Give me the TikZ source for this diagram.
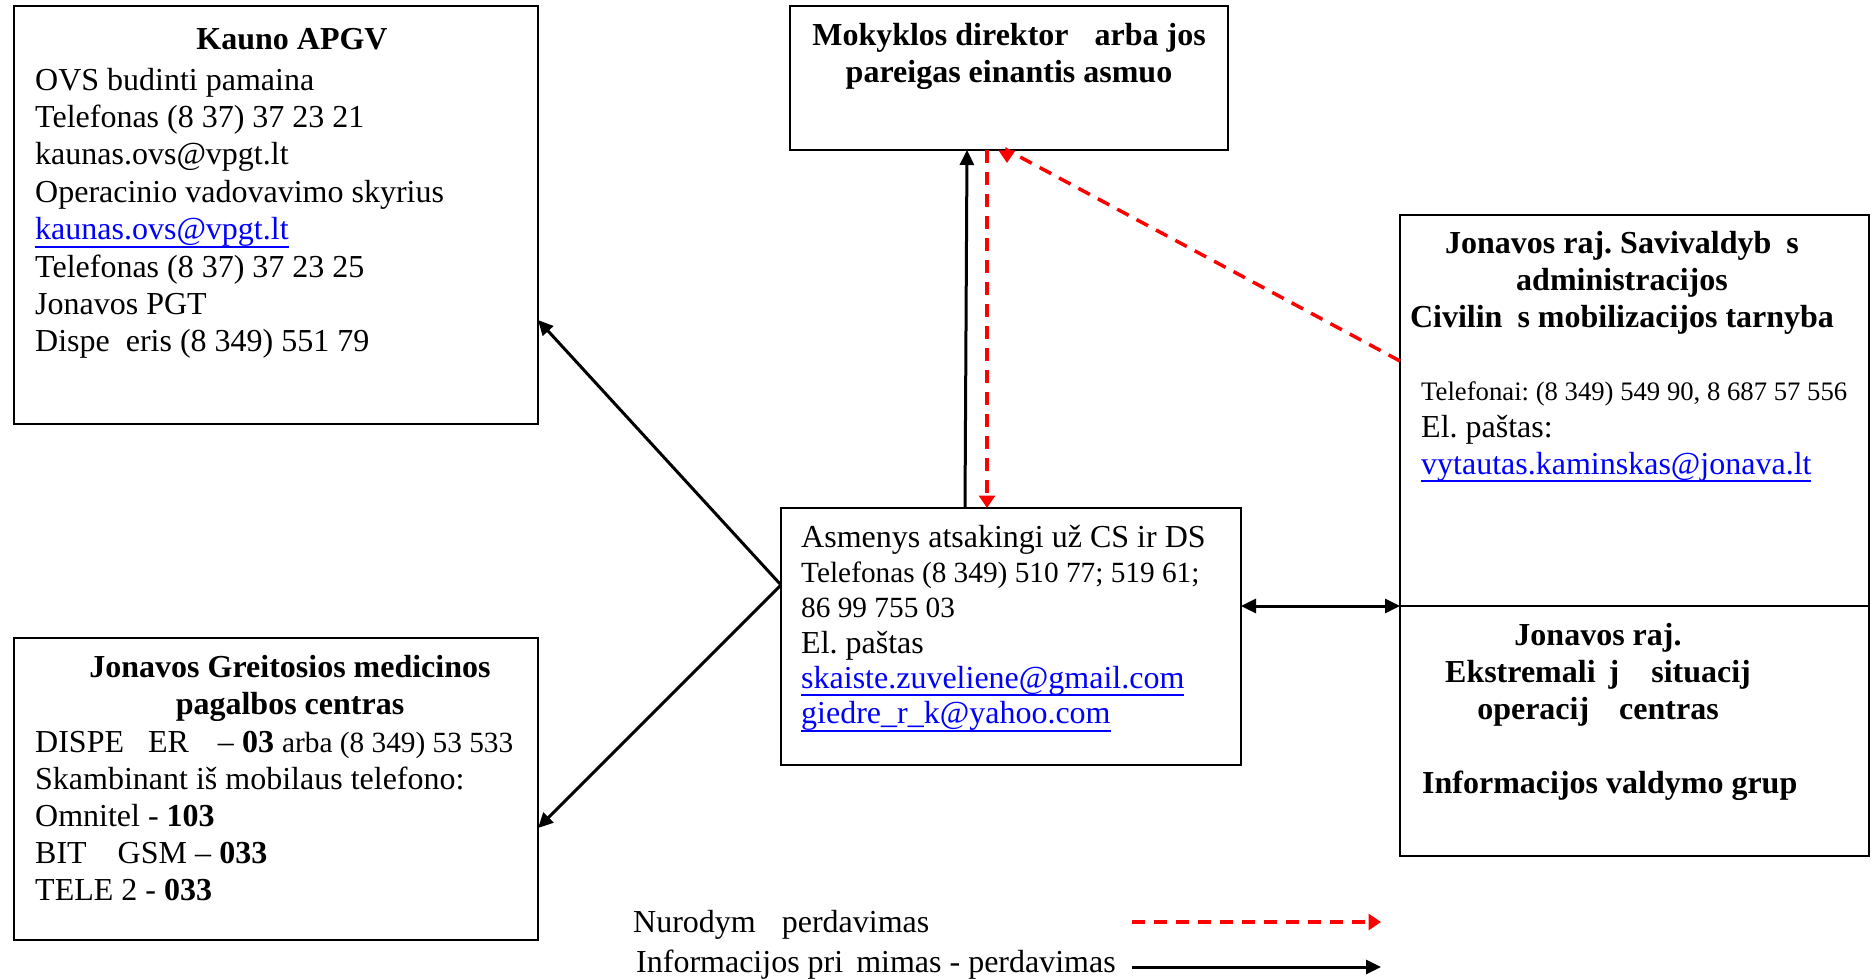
\documentclass[tikz,border=0pt]{standalone}
\usepackage{fontspec}
\setmainfont{Liberation Serif}
\usetikzlibrary{arrows.meta}
\definecolor{ordred}{RGB}{255,0,0}
\definecolor{lnkblue}{RGB}{0,0,255}
\newsavebox{\lnkbox}
% blue underlined address
\newcommand{\lnk}[1]{{\sbox{\lnkbox}{\color{lnkblue}#1}%
  \color{lnkblue}\rlap{\rule[-8pt]{\wd\lnkbox}{2pt}}\usebox{\lnkbox}}}
% blank left where a letter is missing
\newcommand{\missgap}[1]{\hspace*{#1pt}}
\tikzset{
  box/.style={draw, line width=2pt, inner sep=0pt, outer sep=0pt, anchor=north west},
  head/.style={font=\bfseries\fontsize{32}{37}\selectfont, align=center, inner sep=0pt, anchor=north},
  body/.style={font=\fontsize{32}{37}\selectfont, align=left, inner sep=0pt, anchor=north west},
  line/.style={font=\fontsize{32}{37}\selectfont, inner sep=0pt, anchor=base west},
  info/.style={line width=3pt, -{Triangle[length=15pt,width=14pt]}},
  order/.style={ordred, line width=3.5pt, dash pattern=on 13pt off 9pt,
    -{Triangle[length=12.5pt,width=16pt]}}
}
\begin{document}
\frenchspacing
\begin{tikzpicture}[x=1pt,y=-1pt]
  \useasboundingbox (0,0) rectangle (1872,979);
  % boxes
  \node[box, minimum width=524pt, minimum height=418pt] (kaunas) at (14,6) {};
  \node[box, minimum width=438pt, minimum height=144pt] (direktor) at (790,6) {};
  \node[box, minimum width=469pt, minimum height=391pt] (savivald) at (1400,215) {};
  \node[box, minimum width=469pt, minimum height=250pt] (esoc) at (1400,606) {};
  \node[box, minimum width=460pt, minimum height=257pt] (asmenys) at (781,508) {};
  \node[box, minimum width=524pt, minimum height=302pt] (greitoji) at (14,638) {};

  % texts
  \node[head, anchor=base] (kaunashd) at (292,50) {Kauno APGV};
  \node[body, font=\fontsize{32}{37.4}\selectfont] (kaunastx) at (35,63.8) {\strut OVS budinti pamaina\\
    Telefonas (8 37) 37 23 21\\
    kaunas.ovs@vpgt.lt\\
    Operacinio vadovavimo skyrius\\
    \lnk{kaunas.ovs@vpgt.lt}\\
    Telefonas (8 37) 37 23 25\\
    Jonavos PGT\\
    Dispe\missgap{16}eris (8 349) 551 79};

  \node[head] (direkthd) at (1009,19.1) {\strut Mokyklos direktor\missgap{26}arba jos\\
    pareigas einantis asmuo};

  \node[head] (savivhd) at (1622,227.1) {\strut Jonavos raj.\ Savivaldyb\missgap{15}s\\
    administracijos\\
    Civilin\missgap{15}s mobilizacijos tarnyba};
  \node[body] (savivtx) at (1421,374.1) {\strut{\fontsize{26.7}{37}\selectfont Telefonai: (8 349) 549 90, 8 687 57 556}\\
    El.\ paštas:\\
    \lnk{vytautas.kaminskas@jonava.lt}};

  \node[head] (esochd) at (1598,619.1) {\strut Jonavos raj.\\
    Ekstremali\missgap{13}j\missgap{32}situacij\\
    operacij\missgap{30}centras};
  \node[line, font=\bfseries\fontsize{32}{37}\selectfont] (esocgrp) at (1422,793) {Informacijos valdymo grup};

  \node[body, font=\fontsize{32}{35.3}\selectfont] (asmtx) at (801,522.3) {\strut Asmenys atsakingi už CS ir DS\\
    {\fontsize{29.3}{35.3}\selectfont Telefonas (8 349) 510 77; 519 61;}\\
    {\fontsize{29.3}{35.3}\selectfont 86 99 755 03}\\
    El.\ paštas\\
    \lnk{skaiste.zuveliene@gmail.com}\\
    \lnk{giedre\_r\_k@yahoo.com}};

  \node[head] (greithd) at (290,651.1) {\strut Jonavos Greitosios medicinos\\
    pagalbos centras};
  \node[body] (greittx) at (35,726.1) {\strut DISPE\missgap{24}ER\missgap{29}– \textbf{03} {\fontsize{29.3}{37}\selectfont arba (8 349) 53 533}\\
    Skambinant iš mobilaus telefono:\\
    Omnitel - \textbf{103}\\
    BIT\missgap{31}GSM – \textbf{033}\\
    TELE 2 - \textbf{033}};

  % legend
  \node[line] (lgorder) at (633,932) {Nurodym\missgap{26}perdavimas};
  \node[line] (lginfo) at (636,972) {Informacijos pri\missgap{13}mimas - perdavimas};
  \coordinate (lgorderA) at (1132,922);
  \coordinate (lgorderB) at (1381,922);
  \coordinate (lginfoA) at (1132,967);
  \coordinate (lginfoB) at (1381,967);

  % connectors
  \coordinate (fork) at ([yshift=-77pt]asmenys.north west);
  \coordinate (dirtip) at ([xshift=217pt]direktor.south west);
  \draw[info] (fork) -- ([yshift=-314pt]kaunas.north east);
  \draw[info] (fork) -- ([yshift=-190pt]greitoji.north east);
  \draw[info] ([xshift=184pt]asmenys.north west) -- ([xshift=177pt]direktor.south west);
  \draw[order] ([xshift=197pt]direktor.south west) -- ([xshift=206pt]asmenys.north west);
  \draw[order] ([yshift=-146pt]savivald.north west) -- (dirtip) -- ++(0,13);
  \draw[info, {Triangle[length=15pt,width=14pt]}-{Triangle[length=15pt,width=14pt]}]
    ([yshift=-98pt]asmenys.north east) -- (esoc.north west);
  \draw[order] (lgorderA) -- (lgorderB);
  \draw[info] (lginfoA) -- (lginfoB);
\end{tikzpicture}
\end{document}
